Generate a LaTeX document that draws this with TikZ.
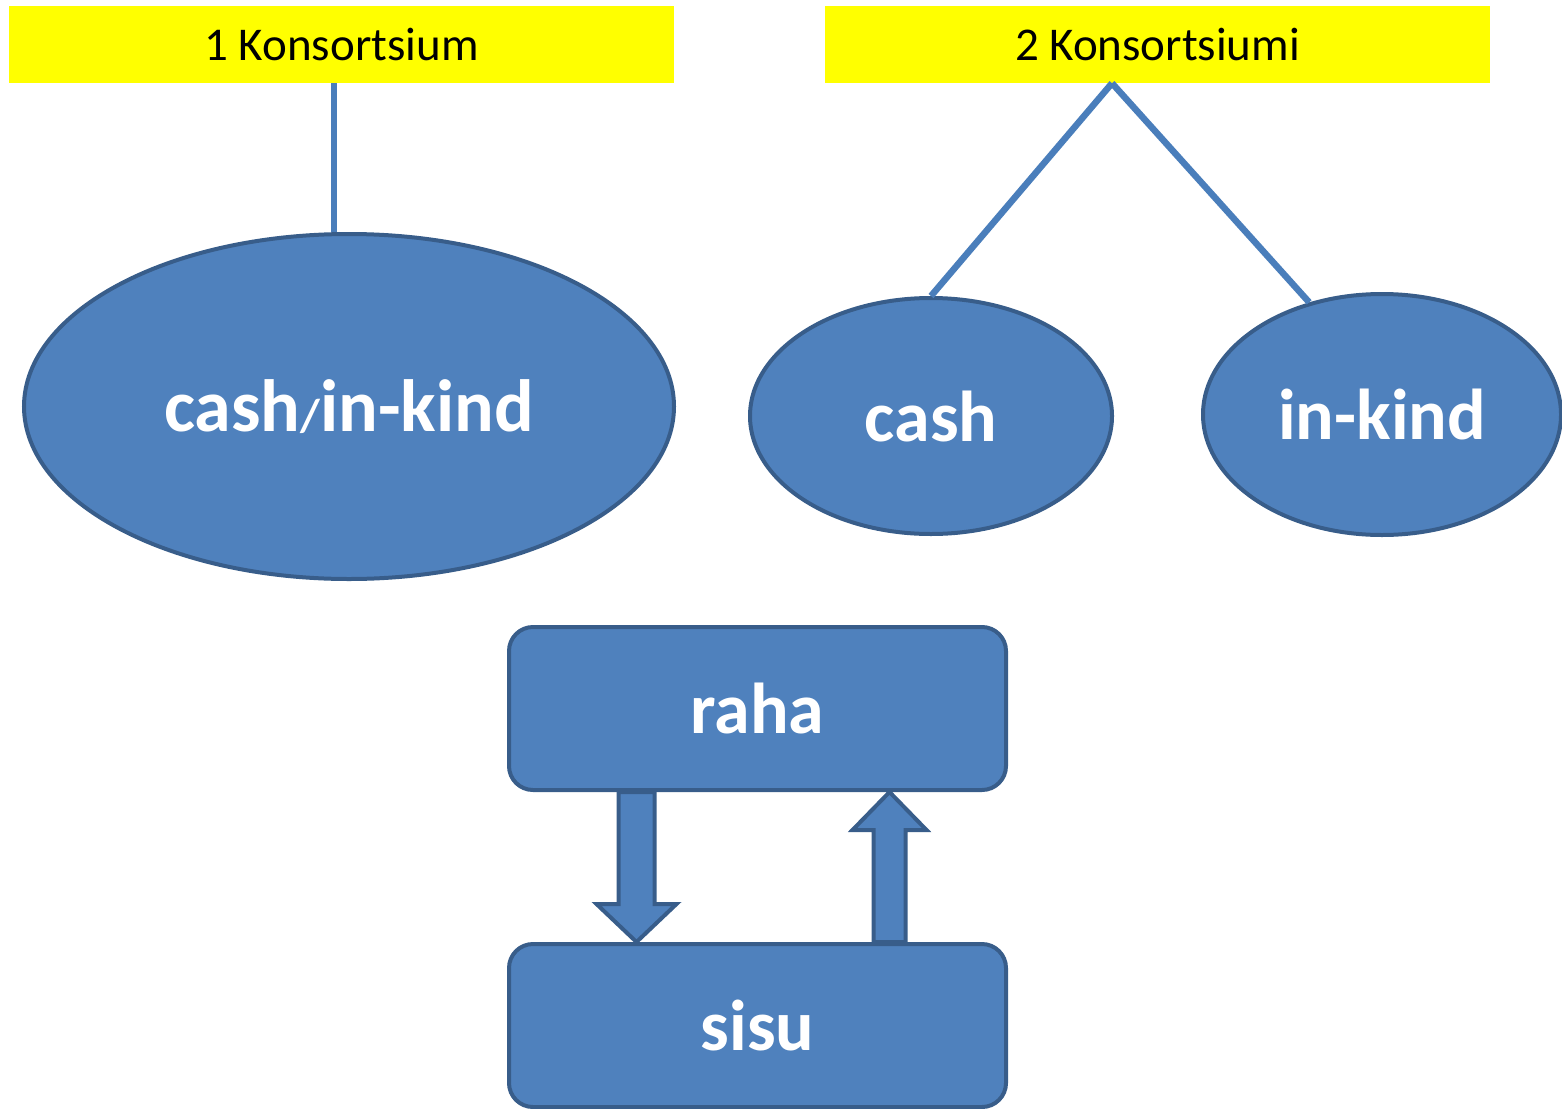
\documentclass[tikz,border=0pt]{standalone}
\usepackage{fontspec}
\setmainfont{Carlito}
\usepackage{tikz}
\usetikzlibrary{shapes.geometric,calc}

\definecolor{boxblue}{HTML}{4F81BD}
\definecolor{rimblue}{HTML}{385D8A}
\definecolor{lineblue}{HTML}{4A7EBB}
\definecolor{bandyellow}{HTML}{FFFF00}

\tikzset{
  band/.style={fill=bandyellow, inner sep=0pt, minimum width=665pt, minimum height=77pt,
    font=\fontsize{47}{56}\selectfont},
  pot/.style={ellipse, fill=boxblue, draw=rimblue, line width=4pt, inner sep=0pt,
    text=white, font=\bfseries\fontsize{72}{86}\selectfont},
  tab/.style={rectangle, rounded corners=24pt, fill=boxblue, draw=rimblue, line width=4pt,
    minimum width=497pt, minimum height=163pt, inner sep=0pt,
    text=white, font=\bfseries\fontsize{72}{86}\selectfont},
  link/.style={draw=lineblue, line width=6.5pt},
  blockarrow/.style={fill=boxblue, draw=rimblue, line width=4pt, line join=miter},
}

\begin{document}
\begin{tikzpicture}[x=1pt, y=-1pt]
  \useasboundingbox (0,0) rectangle (1562,1108);
  \clip (0,0) rectangle (1562,1108);

  % headers
  \node[band] (k1) at (341.5, 44.5) {1 Konsortsium};
  \node[band] (k2) at (1157.5, 44.5) {2 Konsortsiumi};

  % pots
  \node[pot, minimum width=650pt, minimum height=345pt, font=\bfseries\fontsize{74}{88}\selectfont]
    (both) at (349, 406.5) {cash{\fontsize{46}{56}\selectfont/}in-kind};
  \node[pot, minimum width=362pt, minimum height=236pt] (cash) at (931, 416) {cash};
  \node[pot, minimum width=358pt, minimum height=241pt] (kind) at (1382, 414.5) {in-kind};

  \draw[link] ([xshift=-7.5pt]k1.south) -- ([xshift=-7.5pt]k1.south |- both.north);
  \draw[link] ([xshift=-45.5pt]k2.south) -- (cash.north);
  \draw[link] ([xshift=-45.5pt]k2.south) -- (kind.123);

  % raha / sisu
  \node[tab] (raha) at (757.5, 708.5) {raha};
  \node[tab] (sisu) at (757.5, 1025.5) {sisu};

  \coordinate (dtop) at ([xshift=-121pt]raha.south);
  \coordinate (dtip) at ([xshift=-121pt]sisu.north);
  \draw[blockarrow] ($(dtop)+(-18,0)$) -- ($(dtip)+(-18,-38)$) -- ($(dtip)+(-40,-38)$)
    -- (dtip) -- ($(dtip)+(40,-38)$) -- ($(dtip)+(18,-38)$) -- ($(dtop)+(18,0)$) -- cycle;

  \coordinate (utip) at ([xshift=132pt]raha.south);
  \coordinate (ubot) at ([xshift=132pt]sisu.north);
  \draw[blockarrow] ($(ubot)+(-16,0)$) -- ($(utip)+(-16,38)$) -- ($(utip)+(-37,38)$)
    -- (utip) -- ($(utip)+(37,38)$) -- ($(utip)+(16,38)$) -- ($(ubot)+(16,0)$) -- cycle;
\end{tikzpicture}
\end{document}
